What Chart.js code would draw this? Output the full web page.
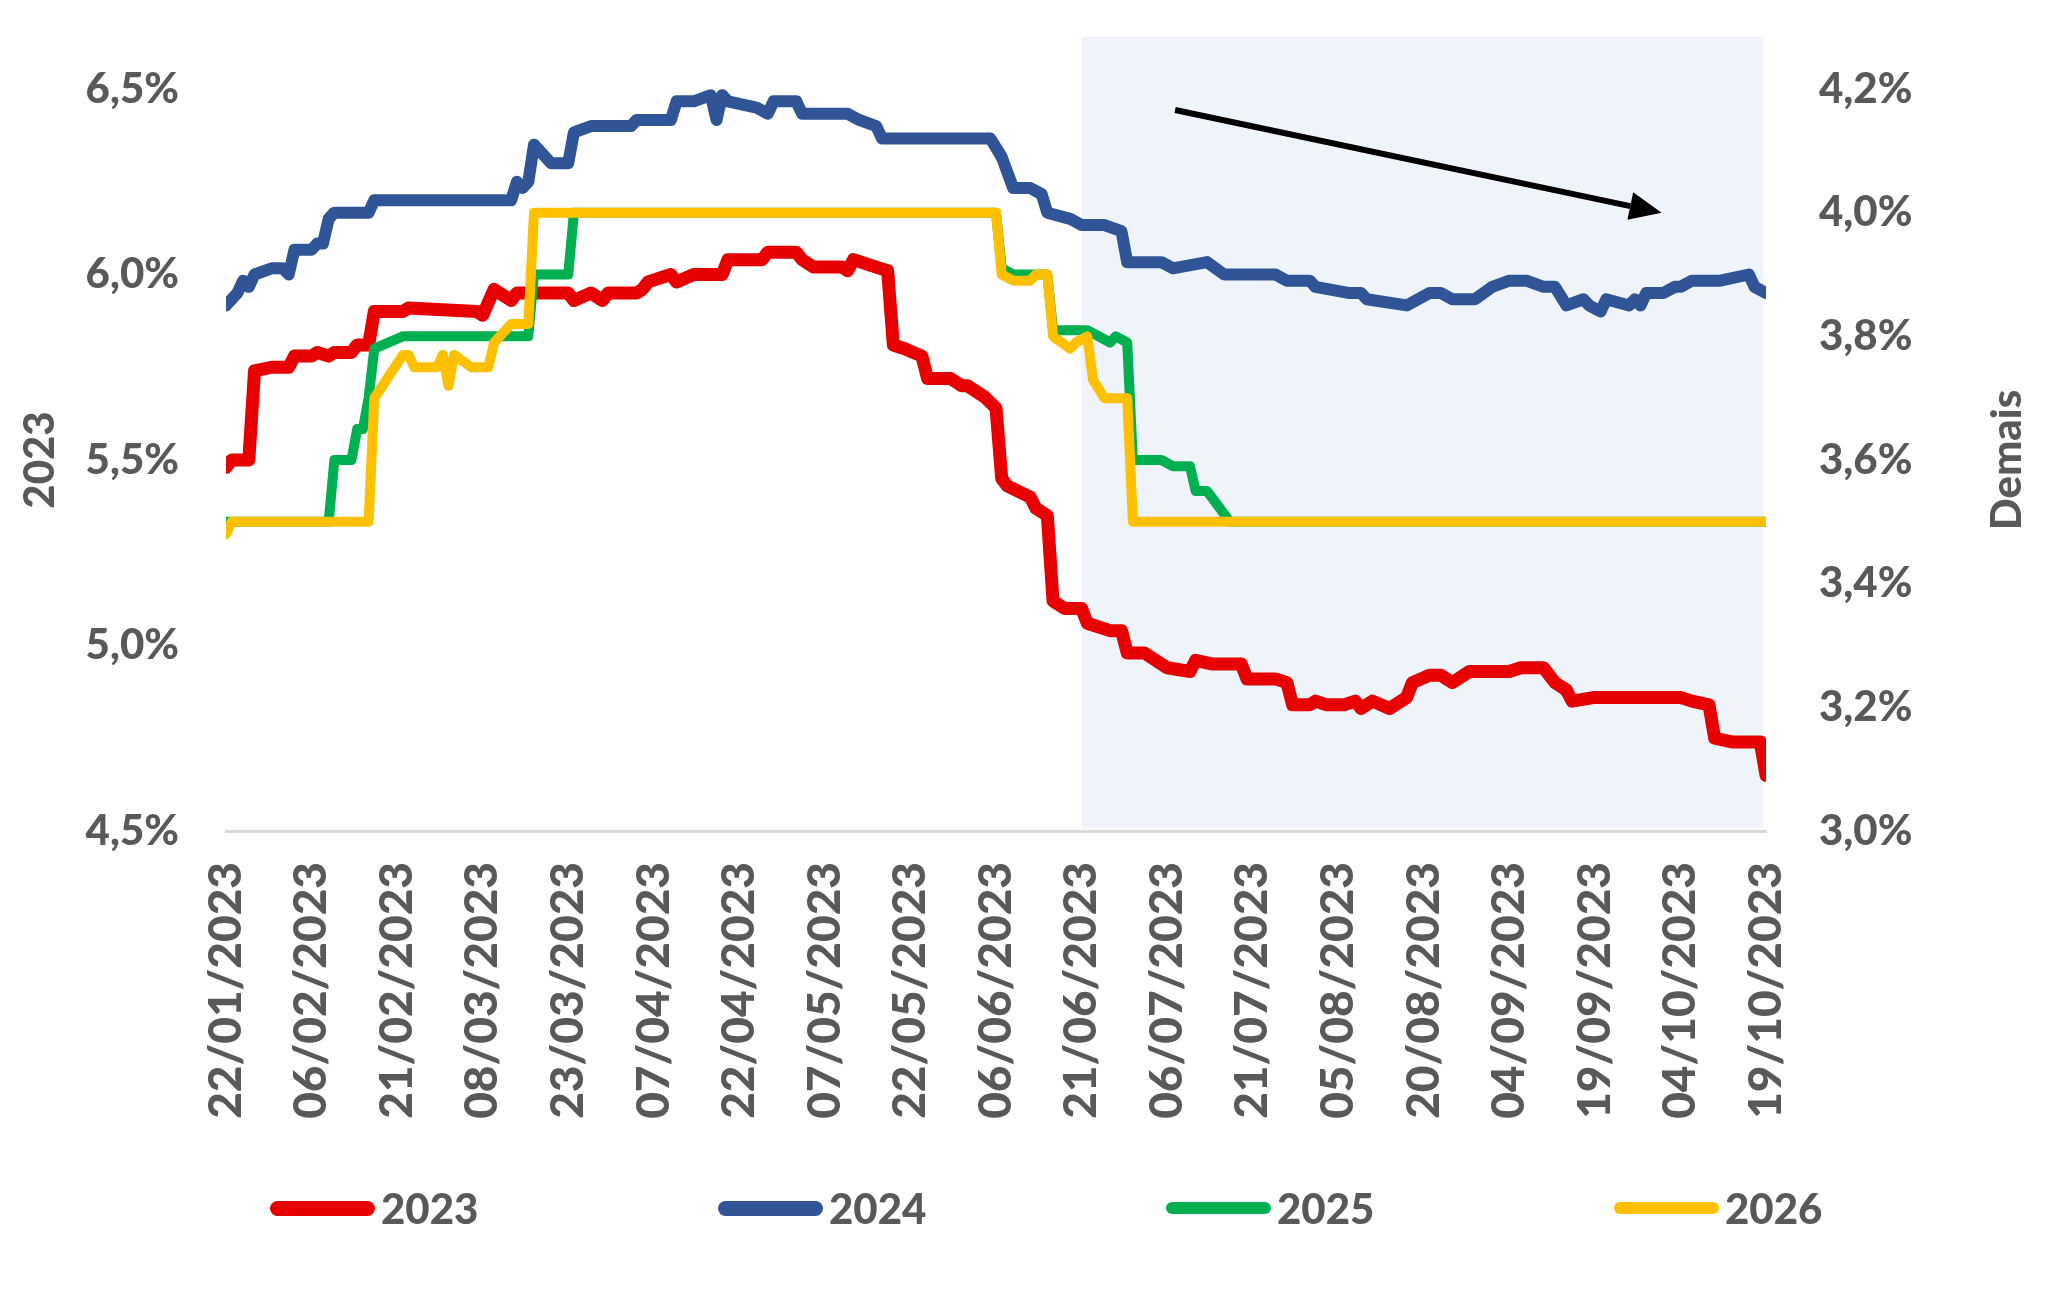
<!DOCTYPE html>
<html>
<head>
<meta charset="utf-8">
<script src="https://cdn.jsdelivr.net/npm/chart.js@4.4.1/dist/chart.umd.min.js"></script>
<style>
    body { margin: 0; background: #fff; }
    .wrap { position: relative; width: 2048px; height: 1299px; }
    .legend ul { position: absolute; top: 1187px; left: 0; margin: 0; padding: 0; list-style: none; }
    .legend li { position: absolute; display: flex; align-items: center; height: 42px; white-space: nowrap;
        font: 900 42px Lato, sans-serif; color: #595959; }
    .legend .mark { display: inline-block; width: 105px; border-radius: 8px; margin-right: 6px; }
</style>
</head>
<body>
<div class="wrap">
    <canvas id="myChart" width="2048" height="1299"></canvas>
    <div class="legend"><ul></ul></div>
</div>
<script>
const labels = ['2023', '2024', '2025', '2026'];
const colors = ['#E60000', '#2F5597', '#00B050', '#FFC000'];

// IPCA 2023 (eixo esquerdo)
const dates2023 = ['22/01', '23/01', '26/01', '27/01', '30/01', '02/02', '03/02', '06/02', '07/02', '09/02',
    '10/02', '13/02', '14/02', '16/02', '17/02', '22/02', '23/02', '07/03', '08/03', '10/03',
    '13/03', '14/03', '23/03', '24/03', '27/03', '29/03', '30/03', '04/04', '05/04', '06/04',
    '10/04', '11/04', '14/04', '19/04', '20/04', '26/04', '27/04', '02/05', '03/05', '05/05',
    '10/05', '11/05', '12/05', '14/05', '16/05', '18/05', '19/05', '21/05', '24/05', '25/05',
    '29/05', '31/05', '01/06', '04/06', '06/06', '07/06', '08/06', '12/06', '13/06', '15/06',
    '16/06', '18/06', '21/06', '22/06', '26/06', '28/06', '29/06', '02/07', '04/07', '06/07',
    '10/07', '11/07', '14/07', '19/07', '20/07', '25/07', '27/07', '28/07', '31/07', '01/08',
    '03/08', '06/08', '08/08', '09/08', '11/08', '14/08', '17/08', '18/08', '21/08', '23/08',
    '25/08', '28/08', '01/09', '04/09', '06/09', '10/09', '12/09', '14/09', '15/09', '19/09',
    '04/10', '06/10', '09/10', '10/10', '13/10', '18/10', '19/10'];
const ipca2023 = [5.48, 5.50, 5.50, 5.74, 5.75, 5.75, 5.78, 5.78, 5.79, 5.78,
    5.79, 5.79, 5.81, 5.81, 5.90, 5.90, 5.91, 5.90, 5.89, 5.96,
    5.93, 5.95, 5.95, 5.93, 5.95, 5.93, 5.95, 5.95, 5.96, 5.98,
    6.00, 5.98, 6.00, 6.00, 6.04, 6.04, 6.06, 6.06, 6.04, 6.02,
    6.02, 6.01, 6.04, 6.03, 6.02, 6.01, 5.81, 5.80, 5.78, 5.72,
    5.72, 5.70, 5.70, 5.67, 5.64, 5.45, 5.43, 5.40, 5.37, 5.35,
    5.12, 5.10, 5.10, 5.06, 5.04, 5.04, 4.98, 4.98, 4.96, 4.94,
    4.93, 4.96, 4.95, 4.95, 4.91, 4.91, 4.90, 4.84, 4.84, 4.85,
    4.84, 4.84, 4.85, 4.83, 4.85, 4.83, 4.86, 4.90, 4.92, 4.92,
    4.90, 4.93, 4.93, 4.93, 4.94, 4.94, 4.90, 4.88, 4.85, 4.86,
    4.86, 4.85, 4.84, 4.75, 4.74, 4.74, 4.65];

// Demais (eixo direito)
const dates2024 = ['22/01', '24/01', '25/01', '26/01', '27/01', '30/01', '01/02', '02/02', '03/02', '06/02',
    '07/02', '08/02', '09/02', '10/02', '16/02', '17/02', '09/03', '13/03', '14/03', '15/03',
    '16/03', '17/03', '20/03', '23/03', '24/03', '27/03', '28/03', '03/04', '04/04', '10/04',
    '11/04', '14/04', '17/04', '18/04', '19/04', '20/04', '25/04', '27/04', '28/04', '02/05',
    '03/05', '11/05', '13/05', '16/05', '17/05', '05/06', '07/06', '09/06', '12/06', '14/06',
    '15/06', '19/06', '21/06', '25/06', '28/06', '29/06', '05/07', '07/07', '13/07', '16/07',
    '25/07', '27/07', '31/07', '01/08', '07/08', '09/08', '10/08', '17/08', '21/08', '23/08',
    '25/08', '29/08', '01/09', '04/09', '07/09', '10/09', '12/09', '14/09', '17/09', '18/09',
    '20/09', '21/09', '25/09', '26/09', '27/09', '28/09', '01/10', '03/10', '04/10', '06/10',
    '10/10', '11/10', '16/10', '17/10', '19/10'];
const ipca2024 = [3.85, 3.87, 3.89, 3.88, 3.90, 3.91, 3.91, 3.90, 3.94, 3.94,
    3.95, 3.95, 3.99, 4.00, 4.00, 4.02, 4.02, 4.02, 4.05, 4.04,
    4.05, 4.11, 4.08, 4.08, 4.13, 4.14, 4.14, 4.14, 4.15, 4.15,
    4.18, 4.18, 4.19, 4.15, 4.19, 4.18, 4.17, 4.16, 4.18, 4.18,
    4.16, 4.16, 4.15, 4.14, 4.12, 4.12, 4.09, 4.04, 4.04, 4.03,
    4.00, 3.99, 3.98, 3.98, 3.97, 3.92, 3.92, 3.91, 3.92, 3.90,
    3.90, 3.89, 3.89, 3.88, 3.87, 3.87, 3.86, 3.85, 3.87, 3.87,
    3.86, 3.86, 3.88, 3.89, 3.89, 3.88, 3.88, 3.85, 3.86, 3.85,
    3.84, 3.86, 3.85, 3.86, 3.85, 3.87, 3.87, 3.88, 3.88, 3.89,
    3.89, 3.89, 3.90, 3.88, 3.87];

const dates2025 = ['22/01', '09/02', '10/02', '13/02', '14/02', '15/02', '16/02', '17/02', '22/02', '16/03',
    '17/03', '23/03', '24/03', '06/06', '07/06', '09/06', '15/06', '16/06', '22/06', '26/06',
    '27/06', '29/06', '30/06', '05/07', '07/07', '10/07', '11/07', '13/07', '17/07', '19/10'];
const ipca2025 = [3.50, 3.50, 3.60, 3.60, 3.65, 3.65, 3.70, 3.78, 3.80, 3.80,
    3.90, 3.90, 4.00, 4.00, 3.91, 3.90, 3.90, 3.81, 3.81, 3.79,
    3.80, 3.79, 3.60, 3.60, 3.59, 3.59, 3.55, 3.55, 3.50, 3.50];

const dates2026 = ['22/01', '23/01', '16/02', '17/02', '22/02', '23/02', '24/02', '28/02', '01/03', '02/03',
    '03/03', '06/03', '09/03', '10/03', '13/03', '16/03', '17/03', '06/06', '07/06', '09/06',
    '12/06', '13/06', '15/06', '16/06', '19/06', '20/06', '22/06', '23/06', '25/06', '29/06',
    '30/06', '19/10'];
const ipca2026 = [3.48, 3.50, 3.50, 3.70, 3.77, 3.77, 3.75, 3.75, 3.77, 3.72,
    3.77, 3.75, 3.75, 3.79, 3.82, 3.82, 4.00, 4.00, 3.90, 3.89,
    3.89, 3.90, 3.90, 3.80, 3.78, 3.79, 3.80, 3.73, 3.70, 3.70,
    3.50, 3.50];

const startDate = new Date(2023, 0, 22);
const shadeFrom = '21/06';
const shadeTo = '19/10';

const dayOf = (s) => {
    const [d, m] = s.split('/').map(Number);
    return Math.round((new Date(2023, m - 1, d) - startDate) / 86400000);
};
const toPoints = (dates, values) => dates.map((d, i) => ({ x: dayOf(d), y: values[i] }));
const pad = (n) => String(n).padStart(2, '0');
const dateLabel = (v) => {
    const dt = new Date(2023, 0, 22 + v);
    return pad(dt.getDate()) + '/' + pad(dt.getMonth() + 1) + '/' + dt.getFullYear();
};
const pct = (v) => v.toFixed(1).replace('.', ',') + '%';

const textColor = '#595959';
const font = 'Lato, sans-serif';

const lineStyle = {
    pointRadius: 0,
    tension: 0,
    fill: false,
    borderJoinStyle: 'round',
    borderCapStyle: 'round'
};

const extras = {
    id: 'extras',
    beforeDatasetsDraw(chart) {
        const { ctx, chartArea, scales } = chart;
        const x0 = scales.x.getPixelForValue(dayOf(shadeFrom));
        const x1 = scales.x.getPixelForValue(dayOf(shadeTo)) - 3;
        ctx.save();
        ctx.fillStyle = '#EFF4FB';
        ctx.fillRect(x0, chartArea.top - 52, x1 - x0, chartArea.bottom - chartArea.top + 48);
        ctx.restore();
    },
    afterDatasetsDraw(chart) {
        // seta de tendência
        const { ctx, scales } = chart;
        const ax = scales.x.getPixelForValue(166.4), ay = scales.y1.getPixelForValue(4.166);
        const bx = scales.x.getPixelForValue(251.7), by = scales.y1.getPixelForValue(4.0);
        const ang = Math.atan2(by - ay, bx - ax);
        const head = 32, half = 14;
        ctx.save();
        ctx.strokeStyle = '#000';
        ctx.fillStyle = '#000';
        ctx.lineWidth = 6;
        ctx.beginPath();
        ctx.moveTo(ax, ay);
        ctx.lineTo(bx - head * Math.cos(ang), by - head * Math.sin(ang));
        ctx.stroke();
        ctx.beginPath();
        ctx.moveTo(bx, by);
        ctx.lineTo(bx - head * Math.cos(ang) + half * Math.sin(ang), by - head * Math.sin(ang) - half * Math.cos(ang));
        ctx.lineTo(bx - head * Math.cos(ang) - half * Math.sin(ang), by - head * Math.sin(ang) + half * Math.cos(ang));
        ctx.closePath();
        ctx.fill();
        ctx.restore();
    },
    afterDraw(chart) {
        const { ctx, chartArea } = chart;
        const cy = (chartArea.top + chartArea.bottom) / 2;
        ctx.save();
        ctx.fillStyle = textColor;
        ctx.font = '900 42px ' + font;
        ctx.textAlign = 'center';
        ctx.textBaseline = 'middle';
        [[40, '2023'], [2007, 'Demais']].forEach(([x, t]) => {
            ctx.save();
            ctx.translate(x, cy);
            ctx.rotate(-Math.PI / 2);
            ctx.fillText(t, 0, 0);
            ctx.restore();
        });
        ctx.restore();
    }
};

new Chart("myChart", {
    type: 'line',
    data: {
        datasets: [
            { label: labels[0], data: toPoints(dates2023, ipca2023), yAxisID: 'y', borderColor: colors[0], borderWidth: 13, order: 3, ...lineStyle },
            { label: labels[1], data: toPoints(dates2024, ipca2024), yAxisID: 'y1', borderColor: colors[1], borderWidth: 12, order: 2, ...lineStyle },
            { label: labels[2], data: toPoints(dates2025, ipca2025), yAxisID: 'y1', borderColor: colors[2], borderWidth: 10, order: 1, ...lineStyle },
            { label: labels[3], data: toPoints(dates2026, ipca2026), yAxisID: 'y1', borderColor: colors[3], borderWidth: 10, order: 0, ...lineStyle }
        ]
    },
    options: {
        responsive: false,
        animation: false,
        layout: { padding: { top: 89, left: 0, right: 0, bottom: 150 } },
        plugins: {
            legend: { display: false },
            tooltip: { enabled: false }
        },
        scales: {
            x: {
                type: 'linear',
                min: 0,
                max: 270,
                grid: { display: false, drawTicks: false },
                border: { display: true, color: '#D9D9D9', width: 3 },
                ticks: {
                    stepSize: 15,
                    autoSkip: false,
                    maxRotation: 90,
                    minRotation: 90,
                    padding: 31,
                    color: textColor,
                    font: { family: font, weight: '900', size: 46 },
                    callback: (v) => dateLabel(v)
                },
                afterFit: (s) => { s.height = 318; }
            },
            y: {
                position: 'left',
                min: 4.5,
                max: 6.5,
                grid: { display: false, drawTicks: false },
                border: { display: false },
                ticks: {
                    stepSize: 0.5,
                    padding: 47,
                    color: textColor,
                    font: { family: font, weight: '900', size: 42 },
                    callback: (v) => pct(v)
                },
                afterFit: (s) => { s.width = 226; }
            },
            y1: {
                position: 'right',
                min: 3.0,
                max: 4.2,
                grid: { display: false, drawTicks: false },
                border: { display: false },
                ticks: {
                    stepSize: 0.2,
                    padding: 53,
                    color: textColor,
                    font: { family: font, weight: '900', size: 42 },
                    callback: (v) => pct(v)
                },
                afterFit: (s) => { s.width = 282; }
            }
        }
    },
    plugins: [extras]
});

const populateLegend = () => {
    const ul = document.querySelector(".legend ul");
    labels.forEach((l, i) => {
        const li = document.createElement("li");
        li.style.left = (270 + i * 448) + 'px';
        li.innerHTML = `<span class="mark" style="background:${colors[i]};height:${i < 2 ? 15 : 12}px"></span>${l}`;
        ul.appendChild(li);
    });
};

populateLegend();
</script>
</body>
</html>
